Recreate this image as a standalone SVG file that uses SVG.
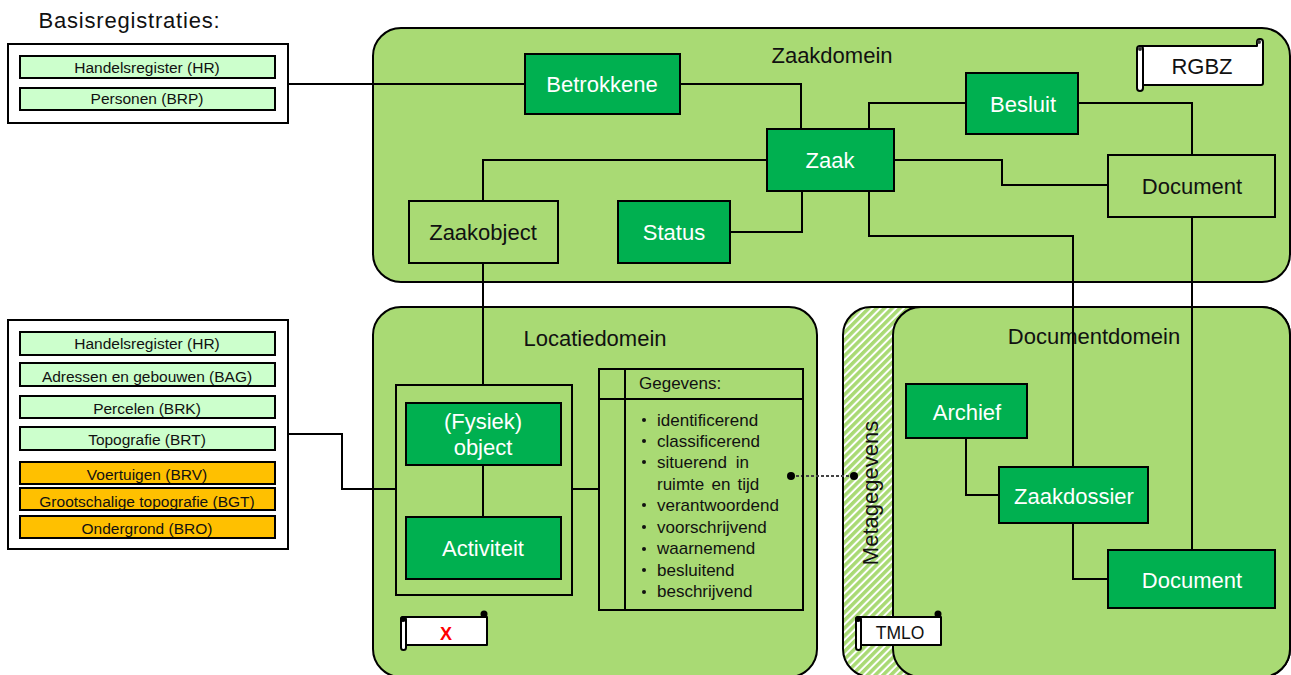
<svg xmlns="http://www.w3.org/2000/svg" width="1291" height="675" viewBox="0 0 1291 675">
<style>
text{font-family:"Liberation Sans",Arial,sans-serif;fill:#111;text-anchor:middle}
.panel{fill:#a9da74;stroke:#000;stroke-width:2}
.dark{fill:#00b050;stroke:#000;stroke-width:2}
.mid{fill:#a9da74;stroke:#000;stroke-width:2}
.mint{fill:#ccffcc;stroke:#000;stroke-width:2}
.amber{fill:#ffc000;stroke:#000;stroke-width:2}
.box{fill:#fff;stroke:#000;stroke-width:2}
.none{fill:none;stroke:#000;stroke-width:2}
.scroll{fill:#fff;stroke:#000;stroke-width:2;stroke-linejoin:round}
.big{font-size:22px}
.w{fill:#fff}
.reg{font-size:15.5px}
.lst{font-size:17px;text-anchor:start}
.title{font-size:22px}
</style>
<defs>
<pattern id="hatch" width="5.5" height="5.5" patternUnits="userSpaceOnUse" patternTransform="rotate(-45)">
<rect width="5.5" height="5.5" fill="#ffffff"/><rect width="5.5" height="3.5" fill="#a9da74"/>
</pattern>
</defs>
<g id="zaakdomein"><rect class="panel" x="373" y="28" width="917" height="254" rx="28"/><text class="title" x="832" y="63">Zaakdomein</text></g>
<g id="locatiedomein"><rect class="panel" x="373" y="307" width="444" height="370" rx="28"/><text class="title" x="595" y="346">Locatiedomein</text></g>
<g id="documentdomein">
<rect x="843" y="307" width="447" height="370" rx="28" fill="url(#hatch)" stroke="#000" stroke-width="2"/>
<path d="M1262 307H921a28 28 0 0 0-28 28V649a28 28 0 0 0 28 28H1262a28 28 0 0 0 28-28V335a28 28 0 0 0-28-28Z" fill="#a9da74" stroke="none"/>
<path class="none" d="M921 307a28 28 0 0 0-28 28V649a28 28 0 0 0 28 28"/>
<path class="none" d="M871 307H1262a28 28 0 0 1 28 28V649a28 28 0 0 1-28 28H871"/>
<text class="title" x="1094" y="344">Documentdomein</text>
<text class="title" transform="translate(878 493) rotate(-90)">Metagegevens</text>
</g>
<g id="connectors" fill="none" stroke="#000" stroke-width="2">
<path d="M288 84H525M680 84H801V129"/>
<path d="M869 129V103H966M1078 103H1192V155"/>
<path d="M894 160H1002V185H1108"/>
<path d="M767 160H483V201"/>
<path d="M730 232H802V191"/>
<path d="M483 263V385"/>
<path d="M869 191V236H1073V467"/>
<path d="M1192 217V550"/>
<path d="M966 438V495H999"/>
<path d="M1073 523V579H1108"/>
<path d="M288 434H342V489H396"/>
<path d="M483 465V517"/>
<path d="M572 489H599"/>
<path d="M791 476H854" stroke="#444" stroke-dasharray="3 2"/>
<circle cx="791" cy="476" r="4" fill="#000" stroke="none"/>
<circle cx="854" cy="476" r="4" fill="#000" stroke="none"/>
</g>
<g id="basis-top">
<text x="129.5" y="28" style="font-size:22px;letter-spacing:.8px">Basisregistraties:</text>
<rect class="box" x="8" y="44" width="280" height="79"/>
<rect class="mint" x="20" y="56" width="255" height="22"/><text class="reg" x="147" y="73">Handelsregister (HR)</text>
<rect class="mint" x="20" y="88" width="255" height="22"/><text class="reg" x="147" y="104">Personen (BRP)</text>
</g>
<g id="basis-bottom">
<rect class="box" x="8" y="320" width="280" height="229"/>
<rect class="mint" x="20" y="332" width="255" height="23"/><text class="reg" x="147" y="349">Handelsregister (HR)</text>
<rect class="mint" x="20" y="363" width="255" height="23"/><text class="reg" x="147" y="382">Adressen en gebouwen (BAG)</text>
<rect class="mint" x="20" y="396" width="255" height="22"/><text class="reg" x="147" y="414">Percelen (BRK)</text>
<rect class="mint" x="20" y="427" width="255" height="23"/><text class="reg" x="147" y="445">Topografie (BRT)</text>
<rect class="amber" x="20" y="462" width="255" height="22"/><text class="reg" x="147" y="480">Voertuigen (BRV)</text>
<rect class="amber" x="20" y="488" width="255" height="22"/><text class="reg" x="147" y="507">Grootschalige topografie (BGT)</text>
<rect class="amber" x="20" y="516" width="255" height="22"/><text class="reg" x="147" y="534">Ondergrond (BRO)</text>
</g>
<g id="betrokkene"><rect class="dark" x="525" y="54" width="155" height="60"/><text class="big w" x="602" y="92">Betrokkene</text></g>
<g id="besluit"><rect class="dark" x="966" y="73" width="112" height="61"/><text class="big w" x="1023" y="112">Besluit</text></g>
<g id="zaak"><rect class="dark" x="767" y="129" width="127" height="62"/><text class="big w" x="830" y="168">Zaak</text></g>
<g id="document-z"><rect class="mid" x="1108" y="155" width="167" height="62"/><text class="big" x="1192" y="194">Document</text></g>
<g id="zaakobject"><rect class="mid" x="409" y="201" width="149" height="62"/><text class="big" x="483" y="240">Zaakobject</text></g>
<g id="status"><rect class="dark" x="618" y="201" width="112" height="62"/><text class="big w" x="674" y="240">Status</text></g>
<g id="object-groep"><rect class="none" x="396" y="385" width="176" height="210"/></g>
<g id="fysiek-object"><rect class="dark" x="406" y="403" width="155" height="62"/><text class="big w" x="483" y="429">(Fysiek)</text><text class="big w" x="483" y="455">object</text></g>
<g id="activiteit"><rect class="dark" x="406" y="517" width="155" height="62"/><text class="big w" x="483" y="556">Activiteit</text></g>
<g id="gegevens">
<rect class="none" x="599" y="369" width="204" height="241"/>
<path class="none" d="M599 399H803M625 369V610"/>
<text class="lst" x="639" y="389">Gegevens:</text>
<text class="lst" x="657" y="426">identificerend</text>
<text class="lst" x="657" y="447">classificerend</text>
<text class="lst" x="657" y="468" word-spacing="4">situerend in</text>
<text class="lst" x="657" y="490" word-spacing="2.5">ruimte en tijd</text>
<text class="lst" x="657" y="511">verantwoordend</text>
<text class="lst" x="657" y="533">voorschrijvend</text>
<text class="lst" x="657" y="554">waarnemend</text>
<text class="lst" x="657" y="576">besluitend</text>
<text class="lst" x="657" y="597">beschrijvend</text>
<g fill="#111">
<circle cx="644" cy="420" r="2"/><circle cx="644" cy="441" r="2"/><circle cx="644" cy="462" r="2"/><circle cx="644" cy="505" r="2"/><circle cx="644" cy="527" r="2"/><circle cx="644" cy="549" r="2"/><circle cx="644" cy="570" r="2"/><circle cx="644" cy="592" r="2"/>
</g>
</g>
<g id="archief"><rect class="dark" x="906" y="384" width="121" height="54"/><text class="big w" x="967" y="420">Archief</text></g>
<g id="zaakdossier"><rect class="dark" x="999" y="467" width="149" height="56"/><text class="big w" x="1074" y="504">Zaakdossier</text></g>
<g id="document-d"><rect class="dark" x="1108" y="550" width="167" height="58"/><text class="big w" x="1192" y="588">Document</text></g>
<g id="rgbz">
<path class="scroll" d="M1140 46H1257V42a3 3 0 0 1 6 0V83a2 2 0 0 1-2 2H1143Z"/>
<rect class="scroll" x="1137" y="46" width="6" height="45" rx="3"/>
<circle cx="1259" cy="42" r="2" fill="#333"/><circle cx="1140" cy="49" r="2" fill="#333"/>
<text x="1202" y="74" style="font-size:22px">RGBZ</text>
</g>
<g id="x-scroll">
<path class="scroll" d="M403 617H487V645H403Z"/>
<rect class="scroll" x="401" y="617" width="5" height="33" rx="2.5"/>
<circle cx="484" cy="614" r="3.5" fill="#000"/><circle cx="403" cy="619" r="3" fill="#000"/>
<text x="446" y="640" style="font-size:18px;font-weight:bold;fill:#ff0000">X</text>
</g>
<g id="tmlo">
<path class="scroll" d="M858 617H941V645H858Z"/>
<rect class="scroll" x="856" y="617" width="5" height="33" rx="2.5"/>
<circle cx="938" cy="614" r="3.5" fill="#000"/><circle cx="858" cy="619" r="3" fill="#000"/>
<text x="900" y="639" style="font-size:17.5px">TMLO</text>
</g>
</svg>
